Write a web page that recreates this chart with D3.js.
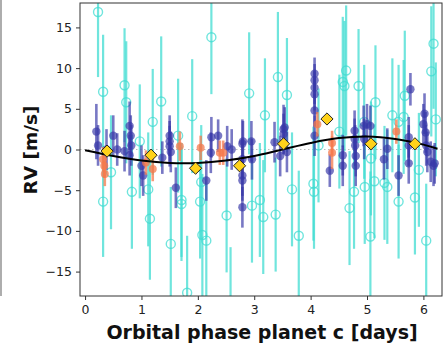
<!DOCTYPE html>
<html><head><meta charset="utf-8">
<script src="https://cdn.jsdelivr.net/npm/d3@7"></script>
<style>body{margin:0;background:#fff}svg{display:block}</style>
</head><body>
<script>
// Cyan (open circles): phase, RV, error
const cyanX = [0.23,0.32,0.32,0.46,0.70,0.73,0.83,0.97,1.12,1.15,1.20,1.35,1.52,1.65,1.71,1.71,1.81,1.90,2.06,2.04,2.08,2.15,2.24,2.51,2.58,2.91,2.96,3.10,3.16,3.19,3.38,3.42,3.58,3.67,3.79,4.05,4.06,4.14,4.51,4.57,4.60,4.63,4.69,4.77,4.85,4.95,4.96,5.07,5.06,5.13,5.15,5.31,5.36,5.45,5.56,5.56,5.65,5.67,5.85,5.92,6.05,6.14,6.18,6.22];
const cyanY = [16.9,7.1,-6.4,-2.8,7.9,5.8,-5.2,1.0,-4.9,-8.5,3.4,5.9,-11.6,1.7,-6.2,-6.7,-17.6,4.1,-4.0,-6.4,-10.5,-11.2,13.8,-8.1,-19.5,6.9,-6.9,-6.2,-8.3,4.2,-8.0,8.9,6.7,-4.9,-10.6,-4.2,-5.2,0.5,2.2,8.3,7.8,9.7,-7.2,-5.2,7.8,3.4,-4.6,-1.1,-10.7,-3.9,5.8,-4.1,-4.6,4.2,3.4,-6.4,4.0,6.6,-5.9,-2.5,-11.2,9.6,13.0,3.7];
const cyanErr = [8,7,6.8,7,7,7.5,7,7,7,7.5,6.5,8,7,7,7,7,7,7,7,7,7.5,7,7,7,7.5,7.5,7,7,7,7,7,8,7,7,8,7,7,7,7,8,8,8,7,7,7,7,7,7,8,7,7,7,7,7,7,7,7,8,7,7,7,8,8,7];
// Dark blue (filled circles)
const blueX = [0.20,0.23,0.38,0.50,0.57,0.70,0.79,0.81,0.82,0.79,1.00,1.03,1.37,1.50,1.50,1.50,1.52,1.61,2.15,2.23,2.24,2.36,2.52,2.60,2.79,2.79,2.79,2.79,2.79,2.80,2.95,2.96,3.36,3.46,3.52,3.52,3.54,3.58,4.07,4.07,4.07,4.07,4.07,4.07,4.34,4.57,4.57,4.78,4.78,4.79,4.80,4.80,4.94,4.95,5.06,5.00,5.30,5.36,5.56,5.74,5.74,5.74,5.77,6.00,6.02,6.04,6.05,6.07,6.13,6.18,6.20];
const blueY = [2.2,0.5,0.0,1.7,0.0,-0.2,2.9,1.7,0.5,-0.7,-2.0,-3.2,-1.0,1.7,1.0,0.4,-0.3,-4.7,-3.8,-0.4,1.5,1.7,0.4,0.0,0.7,-1.2,-3.2,-3.8,-7.1,1.0,1.0,-1.2,0.9,-0.8,2.5,1.9,2.7,-0.3,9.3,8.5,7.6,6.8,4.8,1.7,-2.6,-0.7,-2.0,2.3,1.3,0.5,-0.8,-2.0,2.9,1.3,2.9,3.1,-1.2,0.1,-3.2,1.5,0.5,-1.7,7.4,3.1,4.4,2.1,0.5,-0.3,-1.5,-2.0,-1.7];
const blueErr = [3.4,2.5,2.5,2.5,2.0,2.5,3.0,2.5,2.5,2.5,2.5,2.5,2.0,2.5,2.5,2.5,2.5,2.5,2.5,2.5,2.5,2.0,2.5,2.5,3.0,2.5,2.5,2.5,2.5,2.5,2.5,2.5,2.5,2.5,3.0,2.5,2.5,2.5,2.0,2.0,2.0,2.0,2.0,2.5,2.0,2.5,2.5,2.5,2.5,2.5,2.5,2.5,2.5,2.5,2.5,2.5,2.5,2.5,2.5,2.5,2.5,2.5,2.0,2.5,2.5,2.5,2.5,2.5,2.5,2.5,2.5];
// Orange (filled circles)
const orangeX = [0.32,0.34,0.35,1.08,1.20,1.68,2.05,2.39,2.45,4.12,4.38,4.38,5.52];
const orangeY = [-1.2,-2.0,-3.0,-1.6,-2.4,0.4,0.2,-0.4,-0.4,3.1,0.8,-0.4,2.2];
const orangeErr = [1.5,1.5,1.5,1.5,1.5,1.8,1.5,1.5,1.5,1.5,1.5,2.0,1.5];
// Binned (gold diamonds)
const binX = [0.39,1.17,1.96,2.74,3.52,4.29,5.07,5.85];
const binY = [-0.2,-0.7,-2.3,-2.0,0.7,3.75,0.7,0.7];
// Model curve
const modelX = [0,0.5,1.0,1.5,2.0,2.5,3.0,3.5,4.0,4.5,5.0,5.5,6.0,6.25];
const modelY = [-0.1,-0.8,-1.35,-1.65,-1.65,-1.35,-0.8,0.0,0.8,1.4,1.6,1.3,0.6,0.1];
const xTicks = [0,1,2,3,4,5,6];
const yTicks = [-15,-10,-5,0,5,10,15];

const W=445,H=343, L=80,R=442,T=3,B=296;
const svg=d3.select("body").append("svg").attr("width",W).attr("height",H);
const x=d3.scaleLinear().domain([-0.09,6.33]).range([L,R]);
const y=d3.scaleLinear().domain([-18,18]).range([B,T]);

// adjacent panel edge
svg.append("line").attr("x1",1).attr("x2",1).attr("y1",0).attr("y2",296).attr("stroke","#777").attr("stroke-width",1.2);

svg.append("clipPath").attr("id","c").append("rect").attr("x",L).attr("y",T).attr("width",R-L).attr("height",B-T);
const g=svg.append("g").attr("clip-path","url(#c)");

g.append("line").attr("x1",L).attr("x2",R).attr("y1",y(0)).attr("y2",y(0))
 .attr("stroke","#bbb").attr("stroke-width",1.2).attr("stroke-dasharray","1.5,2.5");

function series(X,Y,E,col,opts){
  const d=X.map((v,i)=>({x:v,y:Y[i],e:E[i]}));
  const gg=g.append("g");
  gg.selectAll("line").data(d).join("line")
    .attr("x1",p=>x(p.x)).attr("x2",p=>x(p.x))
    .attr("y1",p=>y(p.y-p.e)).attr("y2",p=>y(p.y+p.e))
    .attr("stroke",col).attr("stroke-width",opts.lw).attr("stroke-opacity",opts.op);
  gg.selectAll("circle").data(d).join("circle")
    .attr("cx",p=>x(p.x)).attr("cy",p=>y(p.y)).attr("r",opts.r)
    .attr("fill",opts.open?"none":col).attr("fill-opacity",opts.op)
    .attr("stroke",col).attr("stroke-width",opts.open?1.4:0).attr("stroke-opacity",opts.op);
}
series(cyanX,cyanY,cyanErr,"#40dcd2",{lw:2.2,op:0.75,r:4.5,open:true});
series(blueX,blueY,blueErr,"#3838a8",{lw:2.6,op:0.68,r:4.2,open:false});
series(orangeX,orangeY,orangeErr,"#f57a4c",{lw:2.6,op:0.75,r:4.0,open:false});

g.append("path").datum(modelX.map((v,i)=>[v,modelY[i]]))
  .attr("d",d3.line().x(p=>x(p[0])).y(p=>y(p[1])).curve(d3.curveCatmullRom))
  .attr("fill","none").attr("stroke","#000").attr("stroke-width",2);

g.selectAll("path.dia").data(binX.map((v,i)=>[v,binY[i]])).join("path").attr("class","dia")
  .attr("d",d3.symbol().type(d3.symbolDiamond2).size(95))
  .attr("transform",p=>`translate(${x(p[0])},${y(p[1])})`)
  .attr("fill","#ffd21a").attr("stroke","#222").attr("stroke-width",1);

// frame
svg.append("rect").attr("x",L).attr("y",T).attr("width",R-L).attr("height",B-T)
  .attr("fill","none").attr("stroke","#333").attr("stroke-width",1);

const fmt=v=>(v<0?"\u2212"+Math.abs(v):String(v));
const xa=svg.append("g").attr("transform",`translate(0,${B})`)
  .call(d3.axisBottom(x).tickValues(xTicks).tickFormat(fmt).tickSize(4).tickPadding(5));
const ya=svg.append("g").attr("transform",`translate(${L},0)`)
  .call(d3.axisLeft(y).tickValues(yTicks).tickFormat(fmt).tickSize(4).tickPadding(4));
[xa,ya].forEach(a=>{a.select(".domain").remove();
  a.selectAll("line").attr("stroke","#333");
  a.selectAll("text").attr("font-family","DejaVu Sans").attr("font-size",12.5).attr("fill","#222");});

svg.append("text").attr("x",262).attr("y",339).attr("text-anchor","middle")
  .attr("font-family","DejaVu Sans").attr("font-weight","bold").attr("font-size",19).attr("fill","#111")
  .text("Orbital phase planet c [days]");
svg.append("text").attr("transform","translate(37,150) rotate(-90)").attr("text-anchor","middle")
  .attr("font-family","DejaVu Sans").attr("font-weight","bold").attr("font-size",18.5).attr("fill","#111")
  .text("RV [m/s]");
</script>
</body></html>
